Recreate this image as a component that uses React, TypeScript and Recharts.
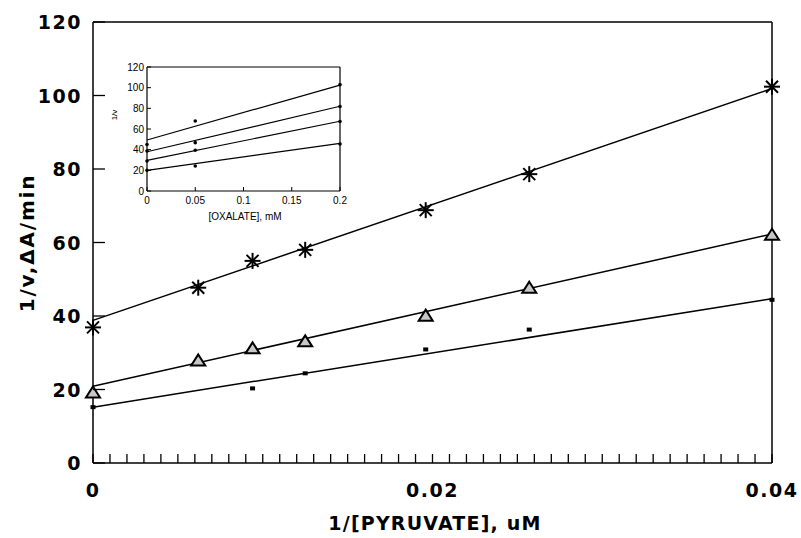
import React from 'react';
import { ScatterChart, Scatter, XAxis, YAxis, ReferenceLine } from 'recharts';

// main plot: 1/v against 1/[pyruvate]
const invPyruvate = [0, 0.0062, 0.0094, 0.0125, 0.0196, 0.0257, 0.04];
const starValues = [36.9, 47.7, 55.0, 58.0, 68.8, 78.6, 102.4];
const triangleValues = [19.2, 27.9, 31.2, 33.1, 40.1, 47.7, 62.1];
const squareX = [0, 0.0094, 0.0125, 0.0196, 0.0257, 0.04];
const squareValues = [15.2, 20.3, 24.4, 30.9, 36.3, 44.4];

// fitted lines (end points)
const fitX = [0, 0.04];
const starFit = [38.8, 101.9];
const triangleFit = [20.9, 62.3];
const squareFit = [15.2, 44.7];

const xTicks = Array.from({ length: 41 }, (_, i) => i / 1000);
const xLabels = [0, 0.02, 0.04];
const yTicks = [0, 20, 40, 60, 80, 100, 120];

// inset: 1/v against [oxalate]
const oxalate = [0, 0.05, 0.2];
const insetA = [45, 67.7, 102.9];
const insetB = [38.7, 46.8, 81.8];
const insetC = [29, 39.4, 67.2];
const insetD = [20, 24.2, 45.5];
const oxalateFitX = [0, 0.2];
const insetFitA = [49.4, 102.5];
const insetFitB = [38, 82];
const insetFitC = [29.7, 67.5];
const insetFitD = [20, 46];
const insetXTicks = [0, 0.05, 0.1, 0.15, 0.2];
const insetYTicks = [0, 20, 40, 60, 80, 100, 120];

const pts = (xs: number[], ys: number[]) => xs.map((x, i) => ({ x, y: ys[i] }));

const FONT = '"DejaVu Sans", sans-serif';
const SMALL = '"Liberation Sans", Arial, sans-serif';

const Star = (p: any) => {
  const { cx, cy } = p;
  const r = 8;
  const d = 6;
  return (
    <g stroke="#000" strokeWidth={2}>
      <line x1={cx - r} y1={cy} x2={cx + r} y2={cy} />
      <line x1={cx} y1={cy - r} x2={cx} y2={cy + r} />
      <line x1={cx - d} y1={cy - d} x2={cx + d} y2={cy + d} />
      <line x1={cx - d} y1={cy + d} x2={cx + d} y2={cy - d} />
    </g>
  );
};

const Triangle = (p: any) => {
  const { cx, cy } = p;
  return (
    <path
      d={`M${cx},${cy - 6} L${cx + 7},${cy + 5} L${cx - 7},${cy + 5} Z`}
      fill="#c8c8c8"
      stroke="#000"
      strokeWidth={2}
    />
  );
};

const Square = (p: any) => <rect x={p.cx - 2.5} y={p.cy - 2} width={5} height={4} fill="#000" />;
const Dot = (p: any) => <circle cx={p.cx} cy={p.cy} r={1.8} fill="#000" />;
const NoMark = () => <g />;

const MainXTick = (p: any) => {
  const { x, y, payload } = p;
  const v = payload.value;
  const major = xLabels.some((m) => Math.abs(m - v) < 1e-9);
  return (
    <g>
      <line x1={x} y1={y} x2={x} y2={y - 9} stroke="#000" strokeWidth={1.3} />
      {major && (
        <text x={x} y={y + 34} textAnchor="middle" fontFamily={FONT} fontWeight="bold" fontSize={19} letterSpacing={1.5} fill="#000">
          {v === 0 ? '0' : String(v)}
        </text>
      )}
    </g>
  );
};

const MainYTick = (p: any) => {
  const { x, y, payload } = p;
  return (
    <g>
      <line x1={x} y1={y} x2={x + 12} y2={y} stroke="#000" strokeWidth={1.3} />
      <text x={x - 11} y={y + 7} textAnchor="end" fontFamily={FONT} fontWeight="bold" fontSize={19} letterSpacing={1.5} fill="#000">
        {payload.value}
      </text>
    </g>
  );
};

const InsetXTick = (p: any) => {
  const { x, y, payload } = p;
  return (
    <g>
      <line x1={x} y1={y} x2={x} y2={y - 4} stroke="#000" strokeWidth={1} />
      <text x={x} y={y + 13} textAnchor="middle" fontFamily={SMALL} fontSize={10} fill="#000">
        {payload.value}
      </text>
    </g>
  );
};

const InsetYTick = (p: any) => {
  const { x, y, payload } = p;
  return (
    <g>
      <line x1={x} y1={y} x2={x + 4} y2={y} stroke="#000" strokeWidth={1} />
      <text x={x - 3} y={y + 3.5} textAnchor="end" fontFamily={SMALL} fontSize={10} fill="#000">
        {payload.value}
      </text>
    </g>
  );
};

const lineStyle = { stroke: '#000', strokeWidth: 1.5 };
const insetLine = { stroke: '#000', strokeWidth: 1.2 };

export default function App() {
  return (
    <div style={{ position: 'absolute', left: 0, top: 0, width: 801, height: 538, background: '#fff' }}>
      <ScatterChart width={801} height={538} margin={{ top: 22, right: 29, bottom: 0, left: 0 }}>
        <XAxis
          type="number"
          dataKey="x"
          domain={[0, 0.04]}
          ticks={xTicks}
          interval={0}
          tickSize={0}
          tickMargin={0}
          height={75}
          axisLine={{ stroke: '#000', strokeWidth: 1.5 }}
          tickLine={false}
          tick={<MainXTick />}
        />
        <YAxis
          type="number"
          dataKey="y"
          domain={[0, 120]}
          ticks={yTicks}
          interval={0}
          tickSize={0}
          tickMargin={0}
          width={93}
          axisLine={{ stroke: '#000', strokeWidth: 1.5 }}
          tickLine={false}
          tick={<MainYTick />}
        />
        <ReferenceLine y={120} stroke="#000" strokeWidth={1.5} />
        <ReferenceLine x={0.04} stroke="#000" strokeWidth={1.5} />
        <Scatter data={pts(fitX, starFit)} line={lineStyle} shape={NoMark} isAnimationActive={false} />
        <Scatter data={pts(fitX, triangleFit)} line={lineStyle} shape={NoMark} isAnimationActive={false} />
        <Scatter data={pts(fitX, squareFit)} line={lineStyle} shape={NoMark} isAnimationActive={false} />
        <Scatter data={pts(invPyruvate, starValues)} shape={Star} isAnimationActive={false} />
        <Scatter data={pts(invPyruvate, triangleValues)} shape={Triangle} isAnimationActive={false} />
        <Scatter data={pts(squareX, squareValues)} shape={Square} isAnimationActive={false} />
        <text x={435} y={530} textAnchor="middle" fontFamily={FONT} fontWeight="bold" fontSize={19} letterSpacing={1.2} fill="#000">
          1/[PYRUVATE], uM
        </text>
        <text
          x={27}
          y={243}
          transform="rotate(-90 27 243)"
          textAnchor="middle"
          dominantBaseline="central"
          fontFamily={FONT}
          fontWeight="bold"
          fontSize={20}
          letterSpacing={1.8}
          fill="#000"
        >
          1/v,ΔA/min
        </text>
      </ScatterChart>

      <div style={{ position: 'absolute', left: 100, top: 55 }}>
        <ScatterChart width={250} height={175} margin={{ top: 12, right: 10, bottom: 0, left: 0 }}>
          <XAxis
            type="number"
            dataKey="x"
            domain={[0, 0.2]}
            ticks={insetXTicks}
            interval={0}
            tickSize={0}
            tickMargin={0}
            height={39}
            axisLine={{ stroke: '#000', strokeWidth: 1.2 }}
            tickLine={false}
            tick={<InsetXTick />}
          />
          <YAxis
            type="number"
            dataKey="y"
            domain={[0, 120]}
            ticks={insetYTicks}
            interval={0}
            tickSize={0}
            tickMargin={0}
            width={47}
            axisLine={{ stroke: '#000', strokeWidth: 1.2 }}
            tickLine={false}
            tick={<InsetYTick />}
          />
          <ReferenceLine y={120} stroke="#000" strokeWidth={1.2} />
          <ReferenceLine x={0.2} stroke="#000" strokeWidth={1.2} />
          <Scatter data={pts(oxalateFitX, insetFitA)} line={insetLine} shape={NoMark} isAnimationActive={false} />
          <Scatter data={pts(oxalateFitX, insetFitB)} line={insetLine} shape={NoMark} isAnimationActive={false} />
          <Scatter data={pts(oxalateFitX, insetFitC)} line={insetLine} shape={NoMark} isAnimationActive={false} />
          <Scatter data={pts(oxalateFitX, insetFitD)} line={insetLine} shape={NoMark} isAnimationActive={false} />
          <Scatter data={pts(oxalate, insetA)} shape={Dot} isAnimationActive={false} />
          <Scatter data={pts(oxalate, insetB)} shape={Dot} isAnimationActive={false} />
          <Scatter data={pts(oxalate, insetC)} shape={Dot} isAnimationActive={false} />
          <Scatter data={pts(oxalate, insetD)} shape={Dot} isAnimationActive={false} />
          <text x={145} y={165} textAnchor="middle" fontFamily={SMALL} fontSize={10} fill="#000">
            [OXALATE], mM
          </text>
          <text x={14} y={60} transform="rotate(-90 14 60)" textAnchor="middle" dominantBaseline="central" fontFamily={SMALL} fontSize={8} fill="#000">
            1/v
          </text>
        </ScatterChart>
      </div>
    </div>
  );
}
